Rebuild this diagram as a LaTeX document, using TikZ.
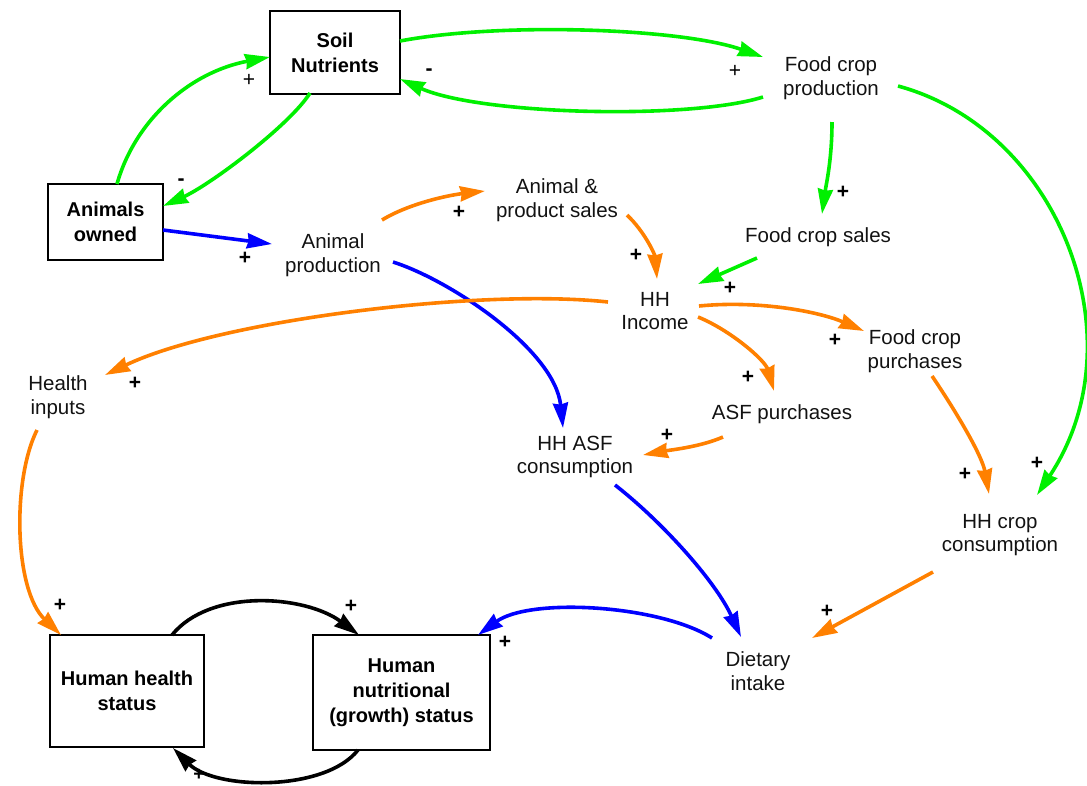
\documentclass[tikz,border=0pt]{standalone}
\usepackage{fontspec}
\setmainfont{Liberation Sans}
\usetikzlibrary{arrows.meta}
\definecolor{cgreen}{RGB}{0,240,0}
\definecolor{corange}{RGB}{255,128,0}
\definecolor{cblue}{RGB}{0,0,255}
\begin{document}
\begin{tikzpicture}[x=1pt,y=-1pt,
  lbl/.style={font=\fontsize{20.5}{23.5}\selectfont, align=center, inner sep=0pt, text=black!93},
  box/.style={draw, line width=1.3pt, font=\bfseries\fontsize{20}{25}\selectfont, align=center, inner sep=0pt},
  sgn/.style={font=\bfseries\fontsize{21}{21}\selectfont, inner sep=0pt},
  sgnthin/.style={font=\fontsize{21}{21}\selectfont, inner sep=0pt},
  link/.style={line width=3.6pt, -{Stealth[length=25pt,width=15pt,inset=1.5pt]}},
  gl/.style={link, draw=cgreen},
  ol/.style={link, draw=corange},
  bl/.style={link, draw=cblue},
  kl/.style={link, draw=black}
]
\useasboundingbox (0,0) rectangle (1087,785);

% boxes
\node[box, minimum width=130, minimum height=83] (soil) at (335,52.5) {Soil\\Nutrients};
\node[box, minimum width=115, minimum height=76] (anim) at (105.5,222) {Animals\\owned};
\node[box, minimum width=154, minimum height=112] (hhs) at (127,691) {Human health\\status};
\node[box, minimum width=177, minimum height=115] (nut) at (401.5,692.5) {Human\\nutritional\\(growth) status};

% text nodes
\node[lbl] (fcp) at (831,78) {Food crop\\production};
\node[lbl] (aps) at (557,200) {Animal \&\\product sales};
\node[lbl] (ap) at (333,255) {Animal\\production};
\node[lbl] (fcs) at (818,237) {Food crop sales};
\node[lbl] (inc) at (655,311) {HH\\Income};
\node[lbl] (fpur) at (915,351) {Food crop\\purchases};
\node[lbl] (hin) at (58,397) {Health\\inputs};
\node[lbl] (asfp) at (782,414) {ASF purchases};
\node[lbl] (hasf) at (575,457) {HH ASF\\consumption};
\node[lbl] (hcc) at (1000,535) {HH crop\\consumption};
\node[lbl] (diet) at (758,671) {Dietary\\intake};

% green links
\draw[gl] ([shift={(11.5,-38)}]anim.center) .. controls +(18,-64) and +(-80,15) .. ([shift={(-65,4.5)}]soil.center);
\draw[gl] ([shift={(-25,40.5)}]soil.center) .. controls +(-20,32) and +(47,-21) .. ([shift={(57.5,-16)}]anim.center);
\draw[gl] ([shift={(65,-11.5)}]soil.center) .. controls +(100,-19) and +(-83,-29) .. ([shift={(-68,-21)}]fcp.center);
\draw[gl] ([shift={(-68,19)}]fcp.center) .. controls +(-73,23) and +(80,36) .. ([shift={(65,26.5)}]soil.center);
\draw[gl] ([shift={(1,44)}]fcp.center) .. controls +(0,38) and +(4,-29) .. ([shift={(4,-23)}]fcs.center);
\draw[gl] ([shift={(-61,21)}]fcs.center) -- ([shift={(43,-27)}]inc.center);
\draw[gl] ([shift={(67,8)}]fcp.center) .. controls +(162,44) and +(103,-155) .. ([shift={(37,-40)}]hcc.center);

% blue links
\draw[bl] ([shift={(57.5,8)}]anim.center) -- ([shift={(-61,-11)}]ap.center);
\draw[bl] ([shift={(60,7)}]ap.center) .. controls +(57,18) and +(-8,-78) .. ([shift={(-12,-29)}]hasf.center);
\draw[bl] ([shift={(40,28)}]hasf.center) .. controls +(45,35) and +(-26,-57) .. ([shift={(-17,-34)}]diet.center);
\draw[bl] ([shift={(-46,-33)}]diet.center) .. controls +(-52,-33) and +(52,-38) .. ([shift={(76.5,-57.5)}]nut.center);

% orange links
\draw[ol] ([shift={(49,-35)}]ap.center) .. controls +(28,-17) and +(-35,4) .. ([shift={(-72,-9)}]aps.center);
\draw[ol] ([shift={(70,15)}]aps.center) .. controls +(18,17) and +(-2,-24) .. ([shift={(2,-32)}]inc.center);
\draw[ol] ([shift={(-47,-9)}]inc.center) .. controls +(-128,-14) and +(115,-55) .. ([shift={(47,-22)}]hin.center);
\draw[ol] ([shift={(44,-5)}]inc.center) .. controls +(61,-6) and +(-44,-19) .. ([shift={(-51,-20)}]fpur.center);
\draw[ol] ([shift={(43,6)}]inc.center) .. controls +(32,13) and +(-9,-31) .. ([shift={(-8,-23)}]asfp.center);
\draw[ol] ([shift={(-59,23)}]asfp.center) .. controls +(-23,10) and +(27,-5) .. ([shift={(68,-2)}]hasf.center);
\draw[ol] ([shift={(17,25)}]fpur.center) .. controls +(23,34) and +(-7,-39) .. ([shift={(-11,-41)}]hcc.center);
\draw[ol] ([shift={(-67,37)}]hcc.center) -- ([shift={(54,-33)}]diet.center);
\draw[ol] ([shift={(-21,33)}]hin.center) .. controls +(-25,50) and +(-47,-45) .. ([shift={(-66,-56)}]hhs.center);

% black links
\draw[kl] ([shift={(45,-56)}]hhs.center) .. controls +(38,-47) and +(-54,-40) .. ([shift={(-42.5,-57.5)}]nut.center);
\draw[kl] ([shift={(-43.5,57.5)}]nut.center) .. controls +(-33,42) and +(42,42) .. ([shift={(46,57)}]hhs.center);

% polarity signs
\node[sgnthin] (s1) at (249,80) {+};
\node[sgn] (s2) at (181,182) {-};
\node[sgnthin] (s3) at (735,71) {+};
\node[sgn] (s4) at (429,72) {-};
\node[sgn] (s5) at (843,192) {+};
\node[sgn] (s6) at (730,288) {+};
\node[sgn] (s7) at (1037,463) {+};
\node[sgn] (s8) at (245,258) {+};
\node[sgn] (s12) at (459,212) {+};
\node[sgn] (s13) at (636,255) {+};
\node[sgn] (s14) at (135,383) {+};
\node[sgn] (s15) at (835,340) {+};
\node[sgn] (s16) at (748,377) {+};
\node[sgn] (s17) at (667,435) {+};
\node[sgn] (s18) at (965,474) {+};
\node[sgn] (s19) at (827,611) {+};
\node[sgn] (s20) at (60,605) {+};
\node[sgn] (s21) at (351,606) {+};
\node[sgn, font=\bfseries\fontsize{19}{19}\selectfont] (s22) at (199,775) {+};
\node[sgn] (s11) at (505,642) {+};
\end{tikzpicture}
\end{document}
